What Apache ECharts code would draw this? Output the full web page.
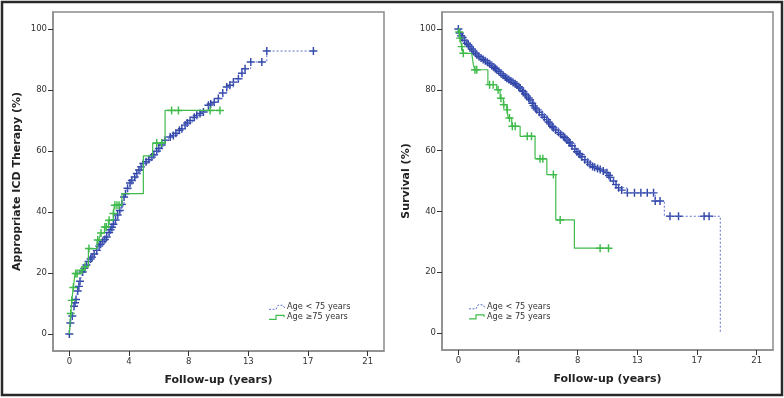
<!DOCTYPE html>
<html>
<head>
<meta charset="utf-8">
<script src="https://cdn.jsdelivr.net/npm/echarts@6/dist/echarts.min.js"></script>
<style>html,body{margin:0;padding:0;background:#fff}#c{width:784px;height:398px}</style>
</head>
<body>
<div id="c"></div>
<script>
// ---------- data ----------
const xTickValues = [0, 4.2, 8.4, 12.6, 16.8, 21];
const xTickLabels = ['0', '4', '8', '13', '17', '21'];
const yTickValues = [0, 20, 40, 60, 80, 100];

const leftTitleY = 'Appropriate ICD Therapy (%)';
const rightTitleY = 'Survival (%)';
const titleX = 'Follow-up (years)';
const leftLegend = ['Age < 75 years', 'Age \u226575 years'];
const rightLegend = ['Age < 75 years', 'Age \u2265 75 years'];

// Left panel: cumulative incidence of appropriate ICD therapy
const leftYoungCurve = [[0,0],[0.07,3.6],[0.15,5],[0.21,5.9],[0.28,7.5],[0.33,9.1],[0.4,10.2],[0.47,11.3],[0.53,12.8],[0.59,14.1],[0.67,15.6],[0.75,17.3],[0.85,18.8],[0.94,20.3],[1.05,21.5],[1.2,22.6],[1.35,23.8],[1.5,24.6],[1.65,25.6],[1.8,26.6],[1.93,27.4],[2.1,28.8],[2.25,29.8],[2.4,30.6],[2.55,31.4],[2.63,31.8],[2.75,32.9],[2.9,34.2],[3.05,35.5],[3.2,37],[3.34,38.4],[3.5,40],[3.65,42],[3.85,44.9],[4.05,47.3],[4.27,49.5],[4.5,51],[4.75,52.6],[5.0,54.5],[5.21,55.9],[5.5,56.8],[5.8,58],[6.1,59.7],[6.39,61.3],[6.6,62.5],[6.74,63.5],[7.0,64.4],[7.32,65.1],[7.6,66.3],[7.92,67.3],[8.15,68.5],[8.38,69.5],[8.7,70.8],[8.97,71.7],[9.44,72.8],[9.79,75],[10.2,76],[10.49,77.2],[10.8,79],[11.08,81],[11.55,82.6],[11.9,83.7],[12.15,85.5],[12.37,87],[12.77,89.2],[13.9,92.8],[17.18,92.8]];
const leftYoungCensor = [[0,0],[0.07,3.6],[0.21,5.9],[0.33,9.1],[0.4,10.2],[0.47,11.3],[0.59,14.1],[0.67,15.6],[0.75,17.3],[0.94,20.3],[1.05,21.5],[1.2,22.6],[1.35,23.8],[1.5,24.6],[1.6,25.2],[1.75,26.2],[1.93,27.4],[2.1,28.8],[2.2,29.4],[2.35,30.3],[2.5,31],[2.63,31.8],[2.8,33.3],[2.9,34.2],[3.0,35],[3.1,36],[3.25,37.4],[3.4,39],[3.55,40.5],[3.7,42.5],[3.85,44.9],[3.95,46],[4.1,47.8],[4.27,49.5],[4.4,50.3],[4.6,51.5],[4.75,52.6],[4.9,53.8],[5.05,54.8],[5.21,55.9],[5.4,56.5],[5.6,57.2],[5.8,58],[5.95,58.8],[6.15,59.9],[6.3,60.8],[6.5,62],[6.74,63.5],[7.1,64.6],[7.32,65.1],[7.5,65.8],[7.75,66.8],[7.92,67.3],[8.15,68.5],[8.3,69.2],[8.5,70],[8.8,71.1],[8.97,71.7],[9.2,72.3],[9.44,72.8],[9.79,75],[9.95,75.4],[10.2,76],[10.49,77.2],[10.8,79],[11.08,81],[11.3,81.6],[11.55,82.6],[11.9,83.7],[12.15,85.5],[12.37,87],[12.77,89.2],[13.55,89.2],[13.9,92.8],[17.18,92.8]];
const leftOldCurve = [[0,0],[0.05,3.5],[0.1,6.7],[0.17,11],[0.28,15.2],[0.4,19.8],[0.82,20.9],[1.1,22],[1.34,28],[1.95,30.8],[2.1,31.5],[2.23,33.1],[2.47,35.1],[2.75,37.3],[3.1,39.5],[3.17,42.2],[3.7,46],[5.21,58.4],[5.87,62.6],[6.74,73.3],[10.6,73.3]];
const leftOldCensor = [[0.1,6.7],[0.17,11],[0.28,15.2],[0.45,19.8],[0.55,19.8],[0.9,20.9],[1.1,22],[1.38,28],[2.0,30.8],[2.23,33.1],[2.5,35.1],[2.6,35.1],[2.8,37.3],[3.1,39.5],[3.2,42.2],[3.35,42.2],[3.5,42.2],[6.15,62.6],[6.5,62.6],[7.2,73.3],[7.68,73.3],[9.91,73.3],[10.6,73.3]];

// Right panel: survival
const rightYoungCurve = [[0,100],[0.1,98.7],[0.24,97.5],[0.4,96.5],[0.6,95.3],[0.82,94.2],[1.05,92.8],[1.3,91.5],[1.6,90.5],[2,89.3],[2.35,88],[2.7,86.6],[3.05,85.2],[3.41,83.8],[3.8,82.6],[4.12,81.6],[4.35,80.6],[4.58,79.4],[4.8,78],[5.05,76.7],[5.3,74.8],[5.52,73.4],[5.9,71.8],[6.23,70.2],[6.45,68.8],[6.69,67.5],[7.05,66],[7.4,64.7],[7.65,63.5],[7.87,62.5],[8.2,60.5],[8.57,58.7],[8.9,57],[9.28,55.4],[9.6,54.5],[9.99,53.8],[10.46,52.7],[10.7,51.2],[10.92,50],[11.1,48.8],[11.28,47.8],[11.87,46.1],[13.86,43.4],[14.5,38.4],[18.44,0]];
const rightYoungCensor = [[0,100],[0.1,98.7],[0.2,97.8],[0.3,97.2],[0.45,96.2],[0.6,95.3],[0.7,94.8],[0.82,94.2],[0.95,93.4],[1.05,92.8],[1.2,92],[1.3,91.5],[1.45,91],[1.6,90.5],[1.75,90],[1.9,89.6],[2.05,89.1],[2.2,88.6],[2.35,88],[2.5,87.4],[2.6,87],[2.7,86.6],[2.85,86],[3.0,85.4],[3.15,84.8],[3.3,84.2],[3.41,83.8],[3.55,83.4],[3.7,82.9],[3.85,82.4],[4.0,82],[4.12,81.6],[4.25,81],[4.35,80.6],[4.5,79.8],[4.58,79.4],[4.7,78.6],[4.8,78],[4.95,77.3],[5.05,76.7],[5.2,75.6],[5.3,74.8],[5.42,74],[5.52,73.4],[5.7,72.6],[5.9,71.8],[6.05,71],[6.23,70.2],[6.35,69.4],[6.45,68.8],[6.6,68],[6.69,67.5],[6.85,66.8],[7.05,66],[7.2,65.4],[7.4,64.7],[7.5,64.2],[7.65,63.5],[7.8,62.8],[7.87,62.5],[8.0,61.6],[8.2,60.5],[8.35,59.6],[8.5,59],[8.57,58.7],[8.7,58],[8.9,57],[9.1,56.2],[9.28,55.4],[9.45,54.8],[9.6,54.5],[9.8,54.1],[9.99,53.8],[10.2,53.3],[10.46,52.7],[10.6,51.8],[10.7,51.2],[10.92,50],[11.1,48.8],[11.28,47.8],[11.5,47],[11.9,46.1],[12.4,46.1],[12.85,46.1],[13.3,46.1],[13.74,46.1],[13.86,43.4],[14.2,43.4],[14.9,38.4],[15.5,38.4],[17.3,38.4],[17.65,38.4]];
const rightOldCurve = [[0,100],[0.06,99],[0.12,97],[0.24,94.2],[0.35,92],[0.94,91.5],[1.06,88.2],[1.17,86.6],[2.08,81.7],[2.7,80],[2.94,77.2],[3.17,75.1],[3.41,73.4],[3.52,70.7],[3.76,68],[4.35,64.7],[5.4,57.3],[6.23,52.1],[6.86,37.2],[8.17,27.9],[10.57,27.9]];
const rightOldCensor = [[0.06,99],[0.12,97],[0.24,94.2],[0.35,92],[1.17,86.6],[1.3,86.6],[2.2,81.7],[2.45,81.7],[2.8,80],[3.0,77.2],[3.2,75.1],[3.45,73.4],[3.6,70.7],[3.8,68],[4.0,68],[4.85,64.7],[5.15,64.7],[5.75,57.3],[5.95,57.3],[6.69,52.1],[7.17,37.2],[9.98,27.9],[10.57,27.9]];

// ---------- chart ----------
const FONT = 'DejaVu Sans';
const BLUE_LINE = '#5f72cf';
const BLUE_MARK = '#3247a8';
const GREEN = '#3fbb4b';
const FRAME = '#8c8c8c';
const PLUS = 'path://M-0.9,-5 L0.9,-5 L0.9,-0.9 L5,-0.9 L5,0.9 L0.9,0.9 L0.9,5 L-0.9,5 L-0.9,0.9 L-5,0.9 L-5,-0.9 L-0.9,-0.9 Z';

function xAxisFor(gi) {
  return {
    type: 'value', gridIndex: gi, min: -1.15, max: 22.15, position: 'bottom',
    splitLine: { show: false },
    axisLine: { show: true, onZero: false, lineStyle: { color: FRAME, width: 1.5 } },
    axisTick: { show: true, customValues: xTickValues, length: 5, inside: false, lineStyle: { color: '#333', width: 1 } },
    axisLabel: { customValues: xTickValues, margin: 6, color: '#333', fontFamily: FONT, fontSize: 8.5,
      formatter: v => { const i = xTickValues.findIndex(t => Math.abs(t - v) < 1e-6); return i >= 0 ? xTickLabels[i] : ''; } },
    name: titleX, nameLocation: 'middle', nameGap: 24,
    nameTextStyle: { fontFamily: FONT, fontWeight: 'bold', fontSize: 11, color: '#222' }
  };
}
function yAxisFor(gi, name) {
  return {
    type: 'value', gridIndex: gi, min: -5.6, max: 105.6, position: 'left',
    splitLine: { show: false },
    axisLine: { show: true, onZero: false, lineStyle: { color: FRAME, width: 1.5 } },
    axisTick: { show: true, customValues: yTickValues, length: 5, lineStyle: { color: '#333', width: 1 } },
    axisLabel: { customValues: yTickValues, margin: 6, color: '#333', fontFamily: FONT, fontSize: 8.5 },
    name: name, nameLocation: 'middle', nameGap: 30, nameRotate: 90,
    nameTextStyle: { fontFamily: FONT, fontWeight: 'bold', fontSize: 11, color: '#222' }
  };
}
function curve(data, gi, color, dashed) {
  return { type: 'line', xAxisIndex: gi, yAxisIndex: gi, data: data, step: 'end', symbol: 'none', silent: true,
    lineStyle: { color: color, width: dashed ? 1 : 1.2, type: dashed ? [2, 2] : 'solid' }, animation: false };
}
function marks(data, gi, color) {
  return { type: 'scatter', xAxisIndex: gi, yAxisIndex: gi, data: data, symbol: PLUS, symbolSize: 8, silent: true,
    itemStyle: { color: color, opacity: 1 }, animation: false };
}
function legendGraphics(x0, y0, labels) {
  const out = [];
  out.push({ type: 'polyline', shape: { points: [[x0, y0 + 2], [x0 + 7, y0 + 2], [x0 + 9, y0 - 2], [x0 + 14, y0 - 2], [x0 + 16, y0 + 1]] },
    style: { stroke: BLUE_LINE, lineWidth: 1, lineDash: [2, 1.5], fill: null } });
  out.push({ type: 'polyline', shape: { points: [[x0, y0 + 12], [x0 + 7, y0 + 12], [x0 + 7, y0 + 8], [x0 + 15, y0 + 8], [x0 + 15, y0 + 10]] },
    style: { stroke: GREEN, lineWidth: 1.2, fill: null } });
  out.push({ type: 'text', x: x0 + 18, y: y0, style: { text: labels[0], font: '8.2px "DejaVu Sans"', fill: '#333', textVerticalAlign: 'middle' } });
  out.push({ type: 'text', x: x0 + 18, y: y0 + 10, style: { text: labels[1], font: '8.2px "DejaVu Sans"', fill: '#333', textVerticalAlign: 'middle' } });
  return out;
}

const chart = echarts.init(document.getElementById('c'), null, { renderer: 'canvas' });
chart.setOption({
  animation: false,
  backgroundColor: '#fff',
  grid: [
    { left: 53, top: 12, width: 331, height: 339, show: true, borderColor: FRAME, borderWidth: 1.5, backgroundColor: '#fff' },
    { left: 442, top: 12, width: 331, height: 338, show: true, borderColor: FRAME, borderWidth: 1.5, backgroundColor: '#fff' }
  ],
  xAxis: [xAxisFor(0), xAxisFor(1)],
  yAxis: [yAxisFor(0, leftTitleY), yAxisFor(1, rightTitleY)],
  series: [
    curve(leftYoungCurve, 0, BLUE_LINE, true),
    marks(leftYoungCensor, 0, BLUE_MARK),
    curve(leftOldCurve, 0, GREEN, false),
    marks(leftOldCensor, 0, GREEN),
    curve(rightYoungCurve, 1, BLUE_LINE, true),
    marks(rightYoungCensor, 1, BLUE_MARK),
    curve(rightOldCurve, 1, GREEN, false),
    marks(rightOldCensor, 1, GREEN)
  ],
  graphic: [
    { type: 'rect', shape: { x: 2, y: 2, width: 780, height: 393 }, style: { stroke: '#2a2a2a', lineWidth: 2.5, fill: null }, z: 100 }
  ].concat(legendGraphics(269, 307.3, leftLegend)).concat(legendGraphics(469, 306.8, rightLegend))
});
</script>
</body>
</html>
